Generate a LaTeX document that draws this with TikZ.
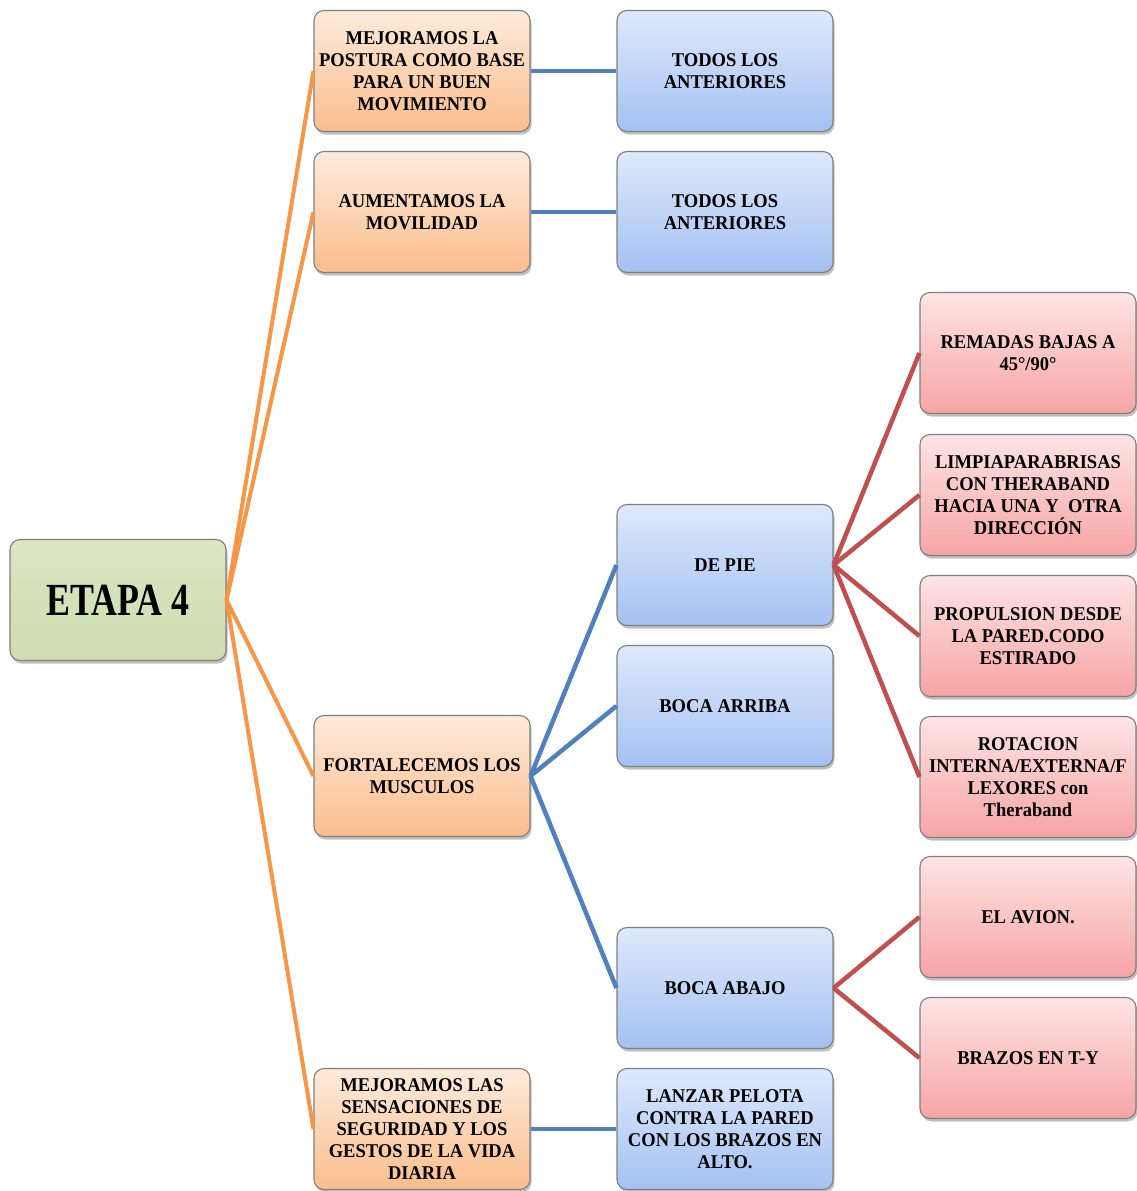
\documentclass[tikz,border=0pt]{standalone}
\usepackage{fontspec}
\setmainfont{Liberation Serif}[FakeStretch=0.95]
\newfontfamily\titlefont{Liberation Serif}[FakeStretch=0.78]
\usetikzlibrary{shadows}
\definecolor{lnorange}{HTML}{F79646}
\definecolor{lnblue}{HTML}{4F81BD}
\definecolor{lnred}{HTML}{C0504D}
\definecolor{bordergray}{HTML}{7F7F7F}
\definecolor{gtop}{HTML}{D9E6C3}
\definecolor{gbot}{HTML}{CDDEAF}
\definecolor{otop}{HTML}{FDEBDD}
\definecolor{obot}{HTML}{FBBD8B}
\definecolor{btop}{HTML}{DEE9FB}
\definecolor{bbot}{HTML}{A4C1F3}
\definecolor{rtop}{HTML}{FDE4E4}
\definecolor{rbot}{HTML}{F7A4A4}
\tikzset{
  box/.style={draw=bordergray, line width=1.1pt, rounded corners=10pt,
    minimum width=216pt, minimum height=121pt, inner sep=2pt, align=center,
    font=\bfseries\fontsize{19.5}{22}\selectfont,
    drop shadow={shadow xshift=1.5pt, shadow yshift=-3pt, opacity=0.35, fill=black!70}},
  greenbox/.style={box, top color=gtop, bottom color=gbot},
  orangebox/.style={box, top color=otop, bottom color=obot},
  bluebox/.style={box, top color=btop, bottom color=bbot},
  redbox/.style={box, top color=rtop, bottom color=rbot},
  orangeln/.style={draw=lnorange, line width=4pt},
  blueln/.style={draw=lnblue, line width=4.5pt},
  redln/.style={draw=lnred, line width=4.5pt},
}
\begin{document}
\begin{tikzpicture}[x=1pt,y=-1pt]
\useasboundingbox (0,0) rectangle (1137,1191);
% root
\node[greenbox, font=\titlefont\bfseries\fontsize{46}{50}\selectfont] (etapa) at (118,600) {ETAPA 4};
% orange column
\node[orangebox] (o1) at (422,71) {MEJORAMOS LA\\POSTURA COMO BASE\\PARA UN BUEN\\MOVIMIENTO};
\node[orangebox] (o2) at (422,212) {AUMENTAMOS LA\\MOVILIDAD};
\node[orangebox] (o3) at (422,776) {FORTALECEMOS LOS\\MUSCULOS};
\node[orangebox] (o4) at (422,1129) {MEJORAMOS LAS\\SENSACIONES DE\\SEGURIDAD Y LOS\\GESTOS DE LA VIDA\\DIARIA};
% blue column
\node[bluebox] (b1) at (725,71) {TODOS LOS\\ANTERIORES};
\node[bluebox] (b2) at (725,212) {TODOS LOS\\ANTERIORES};
\node[bluebox] (pie) at (725,565) {DE PIE};
\node[bluebox] (arriba) at (725,706) {BOCA ARRIBA};
\node[bluebox] (abajo) at (725,988) {BOCA ABAJO};
\node[bluebox] (lanzar) at (725,1129) {LANZAR PELOTA\\CONTRA LA PARED\\CON LOS BRAZOS EN\\ALTO.};
% red column
\node[redbox] (r1) at (1028,353) {REMADAS BAJAS A\\45°/90°};
\node[redbox] (r2) at (1028,495) {LIMPIAPARABRISAS\\CON THERABAND\\HACIA UNA Y\ \ OTRA\\DIRECCIÓN};
\node[redbox] (r3) at (1028,636) {PROPULSION DESDE\\LA PARED.CODO\\ESTIRADO};
\node[redbox] (r4) at (1028,777) {ROTACION\\INTERNA/EXTERNA/F\\LEXORES con\\Theraband};
\node[redbox] (r5) at (1028,917) {EL AVION.};
\node[redbox] (r6) at (1028,1058) {BRAZOS EN T-Y};
% connectors
\draw[orangeln] (etapa.east) -- (o1.west);
\draw[orangeln] (etapa.east) -- (o2.west);
\draw[orangeln] (etapa.east) -- (o3.west);
\draw[orangeln] (etapa.east) -- (o4.west);
\draw[blueln] (o1.east) -- (b1.west);
\draw[blueln] (o2.east) -- (b2.west);
\draw[blueln] (o3.east) -- (pie.west);
\draw[blueln] (o3.east) -- (arriba.west);
\draw[blueln] (o3.east) -- (abajo.west);
\draw[blueln] (o4.east) -- (lanzar.west);
\draw[redln] (pie.east) -- (r1.west);
\draw[redln] (pie.east) -- (r2.west);
\draw[redln] (pie.east) -- (r3.west);
\draw[redln] (pie.east) -- (r4.west);
\draw[redln] (abajo.east) -- (r5.west);
\draw[redln] (abajo.east) -- (r6.west);
\end{tikzpicture}
\end{document}
